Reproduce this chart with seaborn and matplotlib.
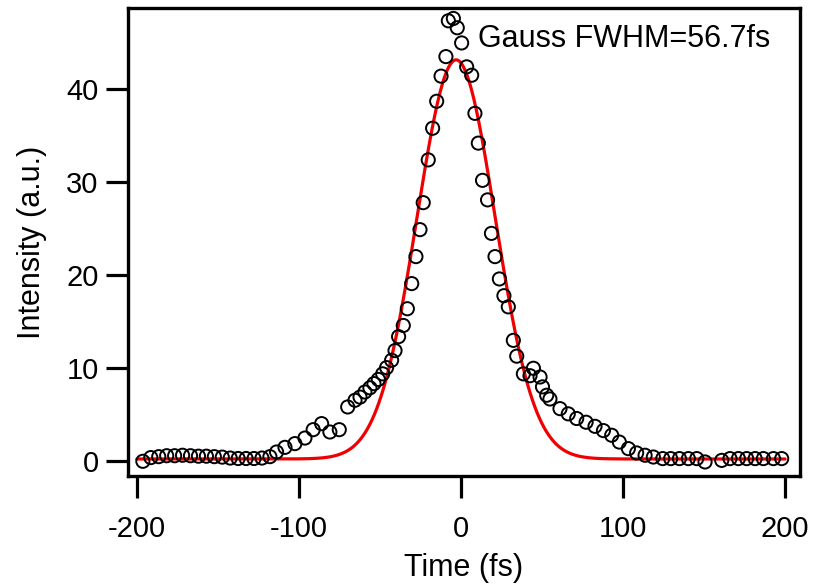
import numpy as np
import pandas as pd
import seaborn as sns
import matplotlib
matplotlib.use("Agg")
import matplotlib.pyplot as plt

time_fs = [-196.3, -191.4, -186.5, -181.6, -176.7, -171.8, -166.9, -162.0, -157.1, -152.2,
           -147.3, -142.4, -137.5, -132.6, -127.7, -122.8, -117.9, -113.8, -108.6, -102.5,
           -96.3, -91.2, -86.0, -80.9, -75.1, -69.9, -65.4, -62.3, -59.3, -56.2,
           -53.7, -51.0, -48.3, -45.9, -42.8, -40.7, -38.5, -35.6, -33.1, -30.4,
           -27.8, -25.3, -23.3, -20.2, -17.5, -15.0, -12.3, -9.3, -7.8, -4.7,
           -2.3, 0.4, 3.5, 6.6, 8.6, 10.7, 13.3, 16.4, 18.8, 21.0,
           23.7, 26.5, 29.2, 32.3, 34.4, 38.5, 42.6, 44.7, 48.8, 50.3,
           52.9, 54.9, 61.1, 66.2, 71.4, 77.2, 82.7, 87.9, 93.0, 97.7,
           103.3, 108.4, 113.6, 118.7, 124.5, 129.4, 134.8, 140.3, 145.5, 150.6,
           160.9, 166.0, 171.2, 176.3, 181.5, 186.6, 192.8, 197.9]
intensity = [0.0, 0.4, 0.5, 0.6, 0.6, 0.65, 0.6, 0.55, 0.55, 0.5,
             0.45, 0.35, 0.3, 0.3, 0.3, 0.35, 0.5, 1.0, 1.5, 1.9,
             2.5, 3.4, 4.05, 3.15, 3.4, 5.84, 6.56, 6.9, 7.45, 7.9,
             8.35, 8.8, 9.4, 10.07, 10.86, 11.9, 13.4, 14.6, 16.4, 19.1,
             22.0, 24.9, 27.8, 32.4, 35.8, 38.7, 41.4, 43.5, 47.35, 47.6,
             46.6, 44.97, 42.4, 41.5, 37.4, 34.2, 30.2, 28.1, 24.5, 22.0,
             19.6, 17.8, 16.6, 13.0, 11.3, 9.4, 9.2, 10.0, 9.06, 8.0,
             7.1, 6.7, 5.66, 5.1, 4.6, 4.2, 3.76, 3.3, 2.8, 2.07,
             1.36, 0.9, 0.65, 0.46, 0.29, 0.29, 0.29, 0.29, 0.29, -0.07,
             0.1, 0.29, 0.29, 0.29, 0.29, 0.29, 0.29, 0.29]

# gaussian fit parameters
fit_amp = 42.9
fit_center = -3.0
fit_fwhm = 56.7
fit_offset = 0.25

df = pd.DataFrame({"t": time_fs, "I": intensity})
t_fit = np.linspace(-200, 200, 801)
sigma = fit_fwhm / (2 * np.sqrt(2 * np.log(2)))
fit = pd.DataFrame({"t": t_fit,
                    "I": fit_offset + fit_amp * np.exp(-(t_fit - fit_center) ** 2 / (2 * sigma ** 2))})

sns.set_theme(style="ticks")
plt.rcParams["font.family"] = ["Liberation Sans", "DejaVu Sans"]
plt.rcParams["axes.unicode_minus"] = False
plt.rcParams["text.color"] = "black"
plt.rcParams["axes.labelcolor"] = "black"
plt.rcParams["xtick.color"] = "black"
plt.rcParams["ytick.color"] = "black"

fig = plt.figure(figsize=(8.14, 5.88), dpi=100)
ax = fig.add_axes([0.157, 0.190, 0.826, 0.796])

sns.scatterplot(data=df, x="t", y="I", ax=ax, marker="o", s=90,
                facecolor="none", edgecolor="black", linewidth=1.4, zorder=3)
sns.lineplot(data=fit, x="t", y="I", ax=ax, color="#f00000", linewidth=2.3, zorder=2)

ax.set_xlim(-205.6, 209.3)
ax.set_ylim(-1.61, 48.7)
ax.set_xticks([-200, -100, 0, 100, 200])
ax.set_yticks([0, 10, 20, 30, 40])
ax.tick_params(direction="out", length=16, width=2.3, labelsize=21)
ax.tick_params(axis="x", pad=12)
ax.tick_params(axis="y", pad=5)
for sp in ax.spines.values():
    sp.set_visible(True)
    sp.set_linewidth(2.4)
    sp.set_color("black")

ax.set_xlabel("Time (fs)", fontsize=22, labelpad=7)
ax.set_ylabel("Intensity (a.u.)", fontsize=22, labelpad=14)
ax.text(0.521, 0.9167, "Gauss FWHM=56.7fs", transform=ax.transAxes,
        ha="left", va="baseline", fontsize=22)

fig.savefig("out.png", dpi=100)
